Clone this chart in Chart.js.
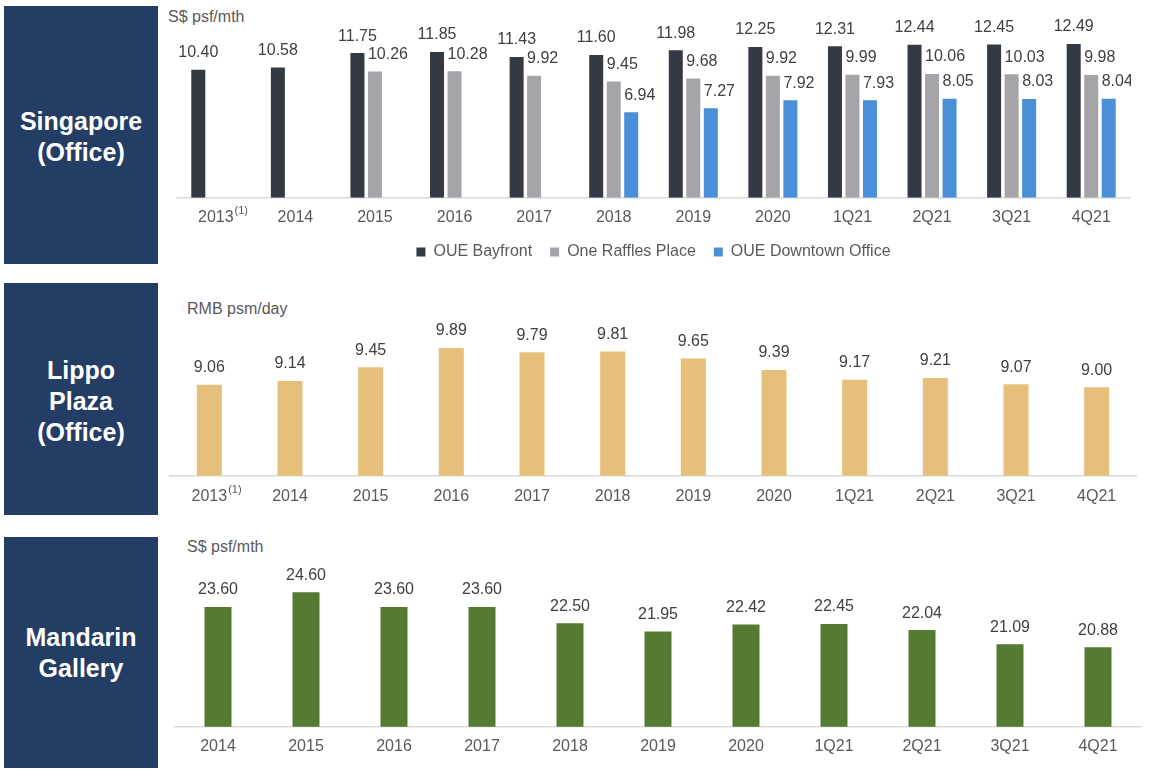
<!DOCTYPE html>
<html>
<head>
<meta charset="utf-8">
<script src="https://cdn.jsdelivr.net/npm/chart.js@4.4.0/dist/chart.umd.min.js"></script>
<style>
body { margin: 0; width: 1150px; height: 770px; background: #fff; position: relative; overflow: hidden; font-family: "Liberation Sans", Arial, sans-serif; }
.box { position: absolute; left: 4px; width: 154px; box-sizing: border-box; background: #243d64; color: #fff; font-weight: bold; font-size: 25px; line-height: 31px; display: flex; align-items: center; justify-content: center; text-align: center; }
.unit { position: absolute; font-size: 16px; line-height: 18px; color: #595959; }
canvas { position: absolute; }
</style>
</head>
<body>
<div class="box" style="top:6px;height:258px;padding-top:3px;">Singapore<br>(Office)</div>
<div class="box" style="top:283px;height:232px;padding-top:4px;">Lippo<br>Plaza<br>(Office)</div>
<div class="box" style="top:537px;height:231px;">Mandarin<br>Gallery</div>

<div class="unit" style="left:168px;top:8px;">S$ psf/mth</div>
<div class="unit" style="left:187px;top:300px;">RMB psm/day</div>
<div class="unit" style="left:187px;top:538px;">S$ psf/mth</div>

<canvas id="sgChart" width="955" height="270" style="left:176px;top:0px;"></canvas>
<canvas id="lippoChart" width="968" height="214" style="left:169px;top:292px;"></canvas>
<canvas id="mgChart" width="968" height="214" style="left:174px;top:542px;"></canvas>

<script>
const sgLabels = ['2013', '2014', '2015', '2016', '2017', '2018', '2019', '2020', '1Q21', '2Q21', '3Q21', '4Q21'];
const oueBayfront = [10.40, 10.58, 11.75, 11.85, 11.43, 11.60, 11.98, 12.25, 12.31, 12.44, 12.45, 12.49];
const oneRafflesPlace = [null, null, 10.26, 10.28, 9.92, 9.45, 9.68, 9.92, 9.99, 10.06, 10.03, 9.98];
const oueDowntown = [null, null, null, null, null, 6.94, 7.27, 7.92, 7.93, 8.05, 8.03, 8.04];

const lippoLabels = ['2013', '2014', '2015', '2016', '2017', '2018', '2019', '2020', '1Q21', '2Q21', '3Q21', '4Q21'];
const lippoPlaza = [9.06, 9.14, 9.45, 9.89, 9.79, 9.81, 9.65, 9.39, 9.17, 9.21, 9.07, 9.00];

const mgLabels = ['2014', '2015', '2016', '2017', '2018', '2019', '2020', '1Q21', '2Q21', '3Q21', '4Q21'];
const mandarinGallery = [23.60, 24.60, 23.60, 23.60, 22.50, 21.95, 22.42, 22.45, 22.04, 21.09, 20.88];

const FONT = '"Liberation Sans", Arial, sans-serif';

// value labels above the bars, grey/blue ones start at the bar's left edge
const valueLabels = {
    id: 'valueLabels',
    afterDatasetsDraw(chart, args, opts) {
        const ctx = chart.ctx;
        ctx.save();
        ctx.font = '16px ' + FONT;
        ctx.fillStyle = '#404040';
        ctx.textBaseline = 'middle';
        chart.data.datasets.forEach((ds, i) => {
            const align = (opts.align || [])[i] || 'center';
            chart.getDatasetMeta(i).data.forEach((bar, j) => {
                const v = ds.data[j];
                if (v == null) return;
                ctx.textAlign = align;
                const x = align === 'left' ? bar.x - bar.width / 2 : bar.x;
                ctx.fillText(v.toFixed(2), x, bar.y - 17);
            });
        });
        ctx.restore();
    }
};

// superscript footnote mark after a tick label, e.g. 2013(1)
const footnote = {
    id: 'footnote',
    afterDraw(chart, args, opts) {
        if (opts.index == null) return;
        const ctx = chart.ctx;
        const scale = chart.scales.x;
        ctx.save();
        ctx.font = '16px ' + FONT;
        const w = ctx.measureText(chart.data.labels[opts.index]).width;
        ctx.font = '11px ' + FONT;
        ctx.fillStyle = '#595959';
        ctx.textAlign = 'left';
        ctx.textBaseline = 'middle';
        ctx.fillText(opts.text, scale.getPixelForTick(opts.index) + w / 2 + 1, scale.top + scale.options.ticks.padding + 3);
        ctx.restore();
    }
};

function xAxis(pad, shrink) {
    return {
        grid: { display: false, drawTicks: false },
        border: { display: true, color: '#d9d9d9', width: 1.5 },
        ticks: { color: '#595959', font: { size: 16, family: FONT }, padding: pad, maxRotation: 0, autoSkip: false },
        afterFit: (scale) => { scale.height -= shrink; }
    };
}

new Chart(document.getElementById('sgChart'), {
    type: 'bar',
    data: {
        labels: sgLabels,
        datasets: [
            { label: 'OUE Bayfront', data: oueBayfront, backgroundColor: '#343a44', categoryPercentage: 0.66, barPercentage: 0.8 },
            { label: 'One Raffles Place', data: oneRafflesPlace, backgroundColor: '#a5a5a9', categoryPercentage: 0.66, barPercentage: 0.8 },
            { label: 'OUE Downtown Office', data: oueDowntown, backgroundColor: '#4a90d8', categoryPercentage: 0.66, barPercentage: 0.8 }
        ]
    },
    options: {
        responsive: false,
        animation: false,
        devicePixelRatio: 1,
        layout: { padding: { top: 20, bottom: 0, left: 0, right: 0 } },
        scales: {
            x: xAxis(10, 11),
            y: { display: false, min: 0, max: 14.44 }
        },
        plugins: {
            legend: {
                position: 'bottom',
                labels: { boxWidth: 9, boxHeight: 9, padding: 18, color: '#595959', font: { size: 16, family: FONT } }
            },
            tooltip: { enabled: false },
            valueLabels: { align: ['center', 'left', 'left'] },
            footnote: { index: 0, text: '(1)' }
        }
    },
    plugins: [valueLabels, footnote]
});

new Chart(document.getElementById('lippoChart'), {
    type: 'bar',
    data: {
        labels: lippoLabels,
        datasets: [
            { label: 'Lippo Plaza', data: lippoPlaza, backgroundColor: '#e6c07b', categoryPercentage: 0.31, barPercentage: 1 }
        ]
    },
    options: {
        responsive: false,
        animation: false,
        devicePixelRatio: 1,
        layout: { padding: { top: 30, bottom: 0, left: 0, right: 0 } },
        scales: {
            x: xAxis(11, 11),
            y: { display: false, min: 7, max: 10.475 }
        },
        plugins: {
            legend: { display: false },
            tooltip: { enabled: false },
            footnote: { index: 0, text: '(1)' }
        }
    },
    plugins: [valueLabels, footnote]
});

new Chart(document.getElementById('mgChart'), {
    type: 'bar',
    data: {
        labels: mgLabels,
        datasets: [
            { label: 'Mandarin Gallery', data: mandarinGallery, backgroundColor: '#557a32', categoryPercentage: 0.307, barPercentage: 1 }
        ]
    },
    options: {
        responsive: false,
        animation: false,
        devicePixelRatio: 1,
        layout: { padding: { top: 30, bottom: 0, left: 0, right: 0 } },
        scales: {
            x: xAxis(10, 10),
            y: { display: false, min: 15.5, max: 25.97 }
        },
        plugins: {
            legend: { display: false },
            tooltip: { enabled: false }
        }
    },
    plugins: [valueLabels]
});
</script>
</body>
</html>
